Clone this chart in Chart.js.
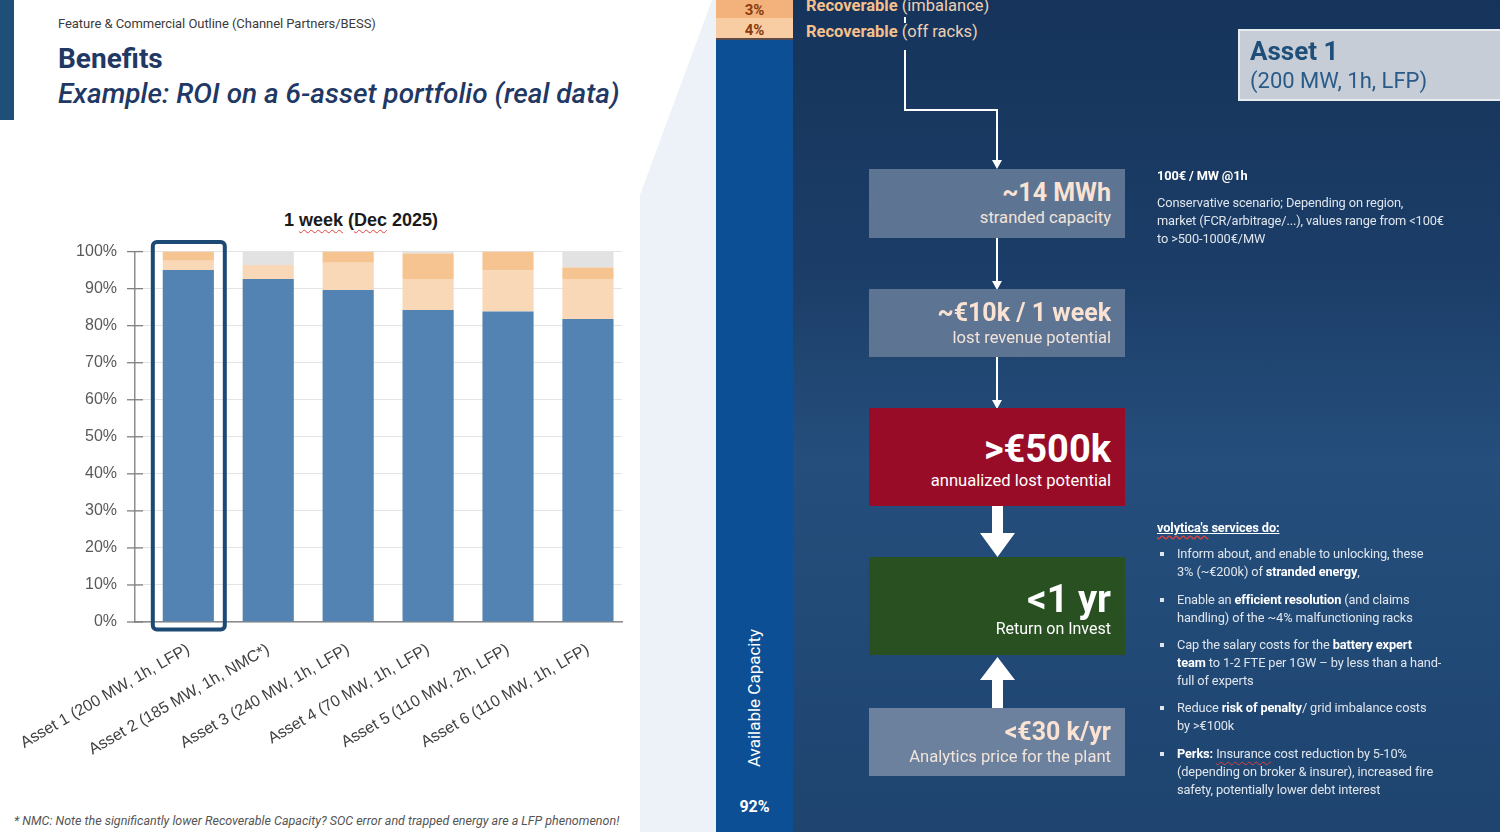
<!DOCTYPE html>
<html>
<head>
<meta charset="utf-8">
<script src="https://cdn.jsdelivr.net/npm/chart.js@4.4.1/dist/chart.umd.min.js"></script>
<style>
html, body { margin: 0; padding: 0; }
body { width: 1500px; height: 832px; position: relative; overflow: hidden; background: #fff; font-family: Roboto, "Liberation Sans", sans-serif; }
.abs { position: absolute; white-space: nowrap; line-height: 1; }
.sq { text-decoration: underline wavy #e0413a; text-decoration-thickness: 1px; text-underline-offset: 3px; }
#chartWrap { position: absolute; left: 0; top: 224px; width: 640px; height: 546px; }
#right { position: absolute; left: 716px; top: 0; width: 784px; height: 832px;
  background: linear-gradient(180deg, #16345b 0%, #1b3d67 32%, #254e7c 55%, #224a77 75%, #1e446f 100%); }
.box { position: absolute; left: 869px; width: 256px; }
.big { position: absolute; right: 389px; font-weight: 700; line-height: 1; white-space: nowrap; }
.sub { position: absolute; right: 389px; font-size: 16.6px; line-height: 1; white-space: nowrap; }
.note { position: absolute; left: 1157px; font-size: 12.8px; letter-spacing: -0.12px; line-height: 18px; color: #dfe5ec; white-space: nowrap; }
.note b { color: #fff; }
.bul { position: absolute; left: 1177px; font-size: 12.8px; letter-spacing: -0.12px; line-height: 18.2px; color: #dfe5ec; white-space: nowrap; }
.bul b { color: #fff; }
.dot { position: absolute; left: 1160px; width: 4px; height: 4px; background: #dfe5ec; }
</style>
</head>
<body>

<!-- left slide -->
<div class="abs" style="left:0;top:0;width:14px;height:120px;background:#1f4e79"></div>
<div class="abs" style="left:640px;top:0;width:76px;height:832px;background:#edf2f8;clip-path:polygon(72px 0,76px 0,76px 832px,0 832px,0 195px)"></div>
<div class="abs" style="left:58px;top:17px;font-size:13px;letter-spacing:-0.05px;color:#3b3b3b">Feature &amp; Commercial Outline (Channel Partners/BESS)</div>
<div class="abs" style="left:58px;top:45px;font-size:28px;font-weight:700;color:#1f3864">Benefits</div>
<div class="abs" style="left:58px;top:80px;font-size:28px;font-style:italic;font-weight:500;color:#1f3864">Example: ROI on a 6-asset portfolio (real data)</div>
<div class="abs" style="left:261px;top:211px;width:200px;text-align:center;font-family:'Liberation Sans',Arial,sans-serif;font-size:18px;font-weight:700;color:#1a1a1a">1 <span class="sq">week</span> (<span class="sq">Dec</span> 2025)</div>
<div id="chartWrap"><canvas id="chart"></canvas></div>
<div class="abs" style="left:14px;top:815px;font-size:12.5px;font-style:italic;letter-spacing:0px;color:#555">* NMC: Note the significantly lower Recoverable Capacity? SOC error and trapped energy are a LFP phenomenon!</div>

<!-- right slide -->
<div id="right"></div>
<div class="abs" style="left:716px;top:0;width:77px;height:832px;background:#0c4f94"></div>
<div class="abs" style="left:716px;top:0;width:77px;height:18px;background:#f3b27c"></div>
<div class="abs" style="left:716px;top:18px;width:77px;height:20px;background:#f9cda3"></div>
<div class="abs" style="left:716px;top:38px;width:77px;height:2px;background:#5a4a48"></div>
<div class="abs" style="left:716px;top:3px;width:77px;text-align:center;font-size:15px;font-weight:700;color:#8b3a0f">3%</div>
<div class="abs" style="left:716px;top:23px;width:77px;text-align:center;font-size:15px;font-weight:700;color:#8b3a0f">4%</div>
<div class="abs" style="left:806px;top:-2px;font-size:16.5px;color:#ecd0b4"><b style="color:#f5c08c">Recoverable</b> (imbalance)</div>
<div class="abs" style="left:806px;top:24px;font-size:16.5px;color:#ecd0b4"><b style="color:#f5c08c">Recoverable</b> (off racks)</div>
<div class="abs" style="left:745px;top:698px;font-size:17px;color:#fff;transform:translate(-50%,-50%) rotate(-90deg);transform-origin:50% 50%;margin-left:9px">Available Capacity</div>
<div class="abs" style="left:716px;top:799px;width:77px;text-align:center;font-size:16px;font-weight:700;color:#fff">92%</div>

<svg class="abs" style="left:0;top:0" width="1500" height="832">
  <g stroke="#fff" stroke-width="2" fill="none">
    <line x1="905" y1="17" x2="905" y2="23"/>
    <polyline points="905,50 905,110 997,110 997,161"/>
    <line x1="997" y1="238" x2="997" y2="282"/>
    <line x1="997" y1="357" x2="997" y2="401"/>
  </g>
  <g fill="#fff">
    <polygon points="992,160 1002,160 997,169"/>
    <polygon points="992,281 1002,281 997,290"/>
    <polygon points="992,400 1002,400 997,409"/>
    <polygon points="992,506 1003,506 1003,533 1015,533 997.5,557 980,533 992,533"/>
    <polygon points="997.5,657 1015,680 1003,680 1003,708 992,708 992,680 980,680"/>
  </g>
</svg>

<div class="box" style="top:169px;height:69px;background:#5d7493"></div>
<div class="big" style="top:180px;font-size:25px;color:#fbe3d3">~14 MWh</div>
<div class="sub" style="top:210px;color:#f2e4da">stranded capacity</div>

<div class="box" style="top:289px;height:68px;background:#5d7493"></div>
<div class="big" style="top:300px;font-size:25px;color:#fbe3d3">~€10k / 1 week</div>
<div class="sub" style="top:330px;color:#f2e4da">lost revenue potential</div>

<div class="box" style="top:408px;height:98px;background:#980c28"></div>
<div class="big" style="top:430px;font-size:38px;color:#fff">&gt;€500k</div>
<div class="sub" style="top:473px;color:#fff">annualized lost potential</div>

<div class="box" style="top:557px;height:98px;background:#285021"></div>
<div class="big" style="top:580px;font-size:38px;color:#fff">&lt;1 yr</div>
<div class="sub" style="top:621px;font-size:16px;color:#fff">Return on Invest</div>

<div class="box" style="top:708px;height:68px;background:#6b819d"></div>
<div class="big" style="top:719px;font-size:25px;color:#fbe3d3">&lt;€30 k/yr</div>
<div class="sub" style="top:749px;color:#f2e4da">Analytics price for the plant</div>

<div class="abs" style="left:1238px;top:29px;width:270px;height:72px;box-sizing:border-box;background:#c6cdd7;border:2px solid #e8ebef"></div>
<div class="abs" style="left:1250px;top:38px;font-size:26px;font-weight:700;color:#1f4e79">Asset 1</div>
<div class="abs" style="left:1250px;top:70px;font-size:22px;color:#2a5a88">(200 MW, 1h, LFP)</div>

<div class="note" style="top:167px"><b>100€ / MW @1h</b></div>
<div class="note" style="top:194px">Conservative scenario; Depending on region,<br>market (FCR/arbitrage/...), values range from &lt;100€<br>to &gt;500-1000€/MW</div>

<div class="note" style="top:519px"><b style="text-decoration:underline"><span class="sq" style="text-decoration:underline wavy #e0413a">volytica's</span> services do:</b></div>
<div class="dot" style="top:552px"></div>
<div class="bul" style="top:545px">Inform about, and enable to unlocking, these<br>3% (~€200k) of <b>stranded energy</b>,</div>
<div class="dot" style="top:598px"></div>
<div class="bul" style="top:591px">Enable an <b>efficient resolution</b> (and claims<br>handling) of the ~4% malfunctioning racks</div>
<div class="dot" style="top:643px"></div>
<div class="bul" style="top:636px">Cap the salary costs for the <b>battery expert</b><br><b>team</b> to 1-2 FTE per 1GW – by less than a hand-<br>full of experts</div>
<div class="dot" style="top:706px"></div>
<div class="bul" style="top:699px">Reduce <b>risk of penalty</b>/ grid imbalance costs<br>by &gt;€100k</div>
<div class="dot" style="top:752px"></div>
<div class="bul" style="top:745px"><b>Perks:</b> <span class="sq">Insurance</span> cost reduction by 5-10%<br>(depending on broker &amp; insurer), increased fire<br>safety, potentially lower debt interest</div>

<script>
// chart data
var assets = ['Asset 1 (200 MW, 1h, LFP)', 'Asset 2 (185 MW, 1h, NMC*)', 'Asset 3 (240 MW, 1h, LFP)',
              'Asset 4 (70 MW, 1h, LFP)', 'Asset 5 (110 MW, 2h, LFP)', 'Asset 6 (110 MW, 1h, LFP)'];
var available = [95.0, 92.6, 89.6, 84.2, 83.8, 81.8];
var offRacks  = [2.5, 3.8, 7.4, 8.4, 11.1, 10.8];
var imbalance = [2.5, 0.0, 3.0, 6.9, 5.1, 3.1];
var other     = [0.0, 3.6, 0.0, 0.5, 0.0, 4.3];

function pts(arr) {
  return arr.map(function (v, i) { return { x: i, y: v }; });
}

// ticks that cross the y axis line, long ones every 10%
var crossTicks = {
  id: 'crossTicks',
  afterDraw: function (chart) {
    var y = chart.scales.y, ctx = chart.ctx, x0 = chart.chartArea.left;
    ctx.save();
    ctx.strokeStyle = '#7f7f7f';
    ctx.lineWidth = 1.3;
    y.ticks.forEach(function (t) {
      var py = y.getPixelForValue(t.value);
      var len = t.value % 10 === 0 ? 8 : 4;
      ctx.beginPath();
      ctx.moveTo(x0 - len, py);
      ctx.lineTo(x0 + len, py);
      ctx.stroke();
    });
    ctx.restore();
  }
};

// frame round the first asset
var highlight = {
  id: 'highlight',
  afterDatasetsDraw: function (chart) {
    var bar = chart.getDatasetMeta(0).data[0];
    var y = chart.scales.y, ctx = chart.ctx;
    var left = bar.x - 35.5, right = bar.x + 36.5;
    var top = y.getPixelForValue(100) - 9.7, bottom = y.getPixelForValue(0) + 7.4;
    ctx.save();
    ctx.strokeStyle = '#1d4a75';
    ctx.lineWidth = 4;
    ctx.beginPath();
    if (ctx.roundRect) ctx.roundRect(left, top, right - left, bottom - top, 4);
    else ctx.rect(left, top, right - left, bottom - top);
    ctx.stroke();
    ctx.restore();
  }
};

var ctx = document.getElementById('chart').getContext('2d');
var chart = new Chart(ctx, {
  type: 'bar',
  data: {
    datasets: [
      { label: 'Available Capacity', data: pts(available), backgroundColor: '#5283b3' },
      { label: 'Recoverable (off racks)', data: pts(offRacks), backgroundColor: '#f9d8b7' },
      { label: 'Recoverable (imbalance)', data: pts(imbalance), backgroundColor: '#f6c491' },
      { label: 'Other', data: pts(other), backgroundColor: '#e2e2e2' }
    ]
  },
  options: {
    responsive: true,
    maintainAspectRatio: false,
    animation: false,
    layout: { padding: { left: 75, right: 18, top: 17, bottom: 0 } },
    datasets: { bar: { barPercentage: 0.64, categoryPercentage: 1, borderWidth: 0 } },
    plugins: { legend: { display: false }, tooltip: { enabled: false }, title: { display: false } },
    scales: {
      x: {
        type: 'linear',
        stacked: true,
        offset: false,
        min: -0.667,
        max: 5.426,
        grid: { display: false, drawTicks: false, offset: false },
        border: { color: '#8c8c8c', width: 1.5 },
        ticks: {
          stepSize: 1, includeBounds: false, autoSkip: false,
          minRotation: 30, maxRotation: 30, padding: 18,
          color: '#404040', font: { family: 'Liberation Sans', size: 16 },
          callback: function (v) { return assets[v]; }
        },
        afterFit: function (s) { s.height = 148; s.paddingLeft = 0; s.paddingRight = 0; }
      },
      y: {
        stacked: true,
        min: 0,
        max: 100,
        grid: { color: '#e4e4e4', drawTicks: false },
        border: { color: '#8c8c8c', width: 1.5 },
        ticks: {
          stepSize: 5, padding: 18,
          color: '#595959', font: { family: 'Liberation Sans', size: 16 },
          callback: function (v) { return v % 10 === 0 ? v + '%' : ''; }
        },
        afterFit: function (s) { s.width = 60; }
      }
    }
  },
  plugins: [crossTicks, highlight]
});
</script>
</body>
</html>
